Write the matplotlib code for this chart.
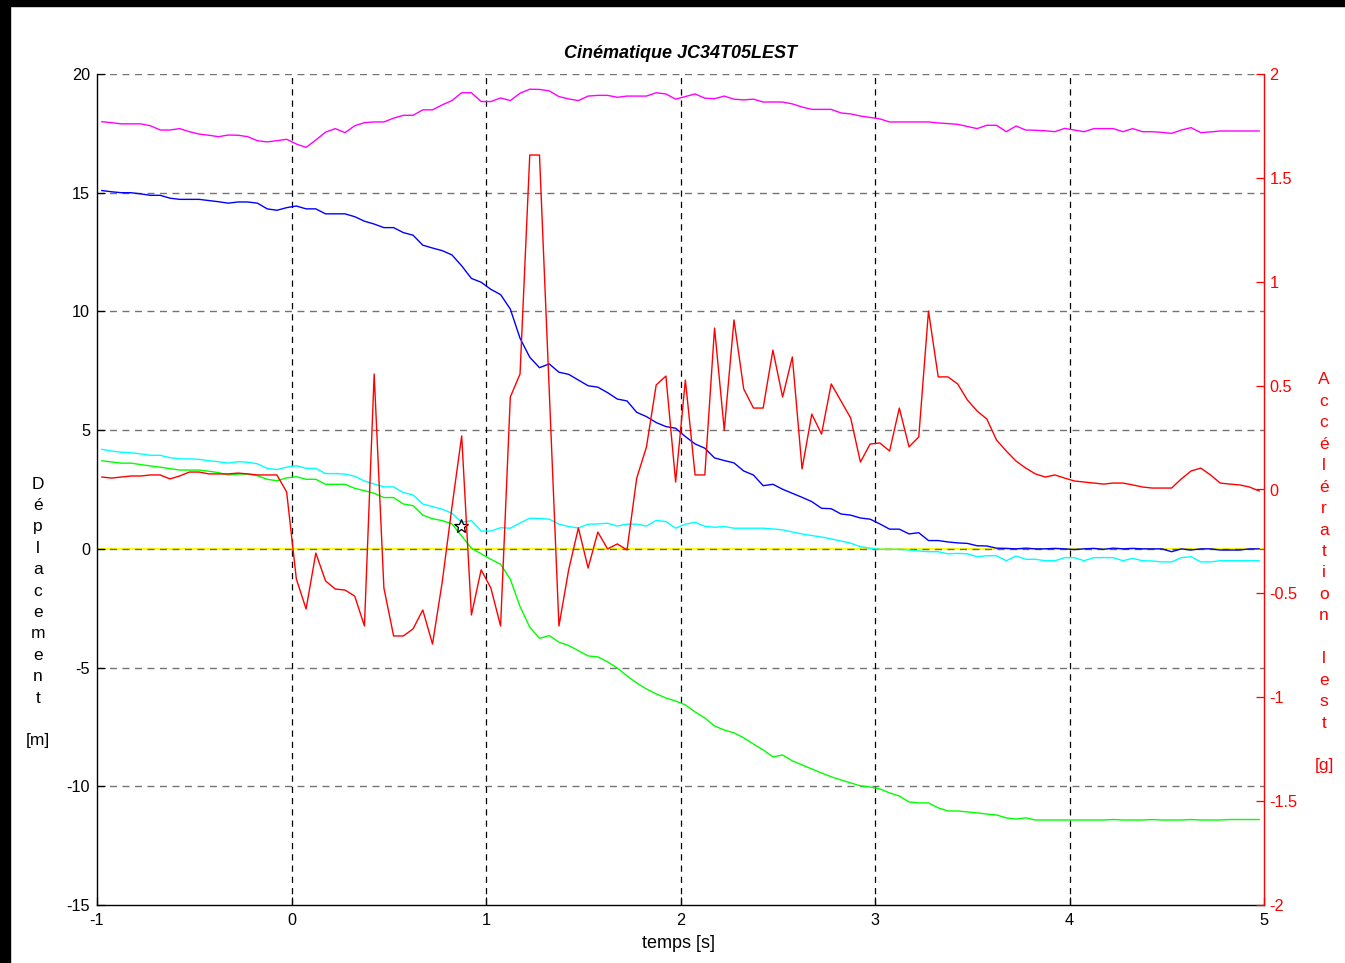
import numpy as np
import matplotlib
matplotlib.use("Agg")
import matplotlib.pyplot as plt
from matplotlib.patches import Rectangle

plt.rcParams["font.family"] = ["Liberation Sans", "DejaVu Sans"]
plt.rcParams["axes.unicode_minus"] = False

# sampling: 120 points every 0.05 s
t = -0.975 + 0.05 * np.arange(120)

magenta = [17.99, 17.95, 17.90, 17.90, 17.90, 17.82, 17.64, 17.64, 17.70, 17.57,
           17.47, 17.42, 17.36, 17.43, 17.42, 17.36, 17.19, 17.14, 17.19, 17.25,
           17.05, 16.91, 17.22, 17.55, 17.70, 17.53, 17.82, 17.95, 17.98, 17.98,
           18.14, 18.26, 18.26, 18.49, 18.49, 18.70, 18.88, 19.21, 19.21, 18.84,
           18.84, 18.99, 18.88, 19.19, 19.36, 19.35, 19.29, 19.05, 18.95, 18.88,
           19.07, 19.10, 19.10, 19.02, 19.07, 19.07, 19.07, 19.21, 19.16, 18.94,
           19.05, 19.16, 18.98, 18.96, 19.07, 18.94, 18.91, 18.94, 18.82, 18.82,
           18.82, 18.74, 18.61, 18.51, 18.51, 18.51, 18.36, 18.32, 18.23, 18.17,
           18.11, 17.98, 17.98, 17.98, 17.98, 17.98, 17.94, 17.91, 17.88, 17.79,
           17.70, 17.84, 17.84, 17.57, 17.81, 17.64, 17.63, 17.61, 17.57, 17.71,
           17.64, 17.57, 17.70, 17.70, 17.70, 17.57, 17.70, 17.57, 17.57, 17.54,
           17.50, 17.64, 17.74, 17.53, 17.56, 17.60, 17.60, 17.60, 17.60, 17.60]

blue = [15.09, 15.04, 15.00, 15.00, 14.95, 14.89, 14.89, 14.77, 14.72, 14.72,
        14.72, 14.67, 14.62, 14.56, 14.61, 14.61, 14.56, 14.32, 14.26, 14.37,
        14.44, 14.32, 14.32, 14.11, 14.11, 14.11, 13.99, 13.80, 13.68, 13.53,
        13.53, 13.32, 13.21, 12.79, 12.67, 12.56, 12.38, 11.92, 11.39, 11.23,
        10.93, 10.71, 10.10, 8.87, 8.07, 7.63, 7.79, 7.44, 7.35, 7.11,
        6.87, 6.81, 6.58, 6.31, 6.23, 5.75, 5.57, 5.32, 5.15, 5.08,
        4.73, 4.42, 4.24, 3.83, 3.72, 3.62, 3.28, 3.11, 2.66, 2.72,
        2.51, 2.34, 2.17, 1.99, 1.71, 1.69, 1.47, 1.42, 1.30, 1.25,
        1.05, 0.83, 0.83, 0.63, 0.68, 0.35, 0.35, 0.29, 0.25, 0.23,
        0.13, 0.12, 0.03, 0.02, 0.00, 0.03, 0.00, 0.00, 0.02, 0.00,
        -0.03, 0.00, 0.02, -0.02, 0.03, 0.00, 0.02, 0.00, 0.00, 0.00,
        -0.12, 0.00, -0.05, 0.00, 0.00, -0.05, -0.05, -0.05, 0.00, 0.00]

cyan = [4.19, 4.12, 4.07, 4.05, 4.00, 3.94, 3.94, 3.84, 3.79, 3.79,
        3.77, 3.71, 3.67, 3.61, 3.67, 3.65, 3.58, 3.39, 3.34, 3.44,
        3.50, 3.39, 3.39, 3.17, 3.17, 3.15, 3.06, 2.86, 2.73, 2.61,
        2.61, 2.37, 2.27, 1.89, 1.78, 1.67, 1.50, 1.12, 1.19, 0.75,
        0.75, 0.89, 0.87, 1.09, 1.29, 1.28, 1.25, 1.04, 0.94, 0.88,
        1.04, 1.05, 1.08, 0.96, 1.04, 1.04, 0.96, 1.20, 1.15, 0.87,
        1.04, 1.12, 0.95, 0.91, 0.94, 0.87, 0.87, 0.87, 0.87, 0.84,
        0.80, 0.71, 0.63, 0.56, 0.50, 0.42, 0.33, 0.24, 0.09, 0.03,
        -0.02, -0.02, -0.02, -0.05, -0.09, -0.12, -0.12, -0.21, -0.19, -0.21,
        -0.33, -0.29, -0.29, -0.50, -0.30, -0.44, -0.44, -0.50, -0.50, -0.37,
        -0.37, -0.50, -0.37, -0.37, -0.37, -0.50, -0.40, -0.50, -0.51, -0.55,
        -0.55, -0.37, -0.33, -0.55, -0.55, -0.50, -0.50, -0.50, -0.50, -0.50]

green = [3.71, 3.66, 3.61, 3.61, 3.55, 3.49, 3.44, 3.38, 3.32, 3.32,
         3.32, 3.27, 3.21, 3.11, 3.15, 3.15, 3.08, 2.93, 2.87, 2.99,
         3.04, 2.93, 2.93, 2.72, 2.72, 2.72, 2.55, 2.45, 2.34, 2.16,
         2.16, 1.89, 1.82, 1.42, 1.27, 1.19, 1.05, 0.54, 0.03, -0.21,
         -0.44, -0.65, -1.28, -2.43, -3.30, -3.77, -3.65, -3.93, -4.07, -4.29,
         -4.51, -4.55, -4.76, -5.02, -5.35, -5.65, -5.90, -6.11, -6.28, -6.41,
         -6.57, -6.87, -7.12, -7.46, -7.63, -7.75, -7.96, -8.22, -8.47, -8.76,
         -8.68, -8.93, -9.10, -9.27, -9.44, -9.60, -9.73, -9.86, -9.98, -10.03,
         -10.11, -10.28, -10.41, -10.66, -10.70, -10.70, -10.91, -11.04, -11.04, -11.08,
         -11.12, -11.17, -11.21, -11.33, -11.38, -11.33, -11.42, -11.42, -11.42, -11.42,
         -11.42, -11.42, -11.42, -11.42, -11.40, -11.42, -11.42, -11.42, -11.40, -11.42,
         -11.42, -11.42, -11.40, -11.42, -11.42, -11.42, -11.40, -11.40, -11.40, -11.40]

accel = [0.060, 0.055, 0.060, 0.065, 0.065, 0.070, 0.070, 0.051, 0.065, 0.084,
         0.084, 0.075, 0.075, 0.075, 0.079, 0.075, 0.070, 0.070, 0.070, -0.012,
         -0.431, -0.575, -0.306, -0.440, -0.479, -0.484, -0.513, -0.657, 0.556, -0.474,
         -0.705, -0.705, -0.671, -0.580, -0.744, -0.445, -0.084, 0.258, -0.604, -0.387,
         -0.474, -0.657, 0.445, 0.556, 1.610, 1.610, 0.479, -0.657, -0.387, -0.185,
         -0.378, -0.205, -0.286, -0.262, -0.291, 0.055, 0.205, 0.503, 0.546, 0.036,
         0.527, 0.070, 0.070, 0.777, 0.286, 0.816, 0.484, 0.392, 0.392, 0.671,
         0.445, 0.638, 0.099, 0.363, 0.267, 0.508, 0.426, 0.344, 0.132, 0.219,
         0.224, 0.185, 0.392, 0.205, 0.253, 0.859, 0.542, 0.542, 0.508, 0.431,
         0.378, 0.339, 0.238, 0.185, 0.137, 0.103, 0.075, 0.060, 0.070, 0.055,
         0.041, 0.036, 0.031, 0.026, 0.031, 0.031, 0.022, 0.012, 0.007, 0.007,
         0.007, 0.051, 0.089, 0.103, 0.070, 0.031, 0.026, 0.022, 0.012, -0.007]

star_t, star_y = 0.87, 0.98

x_ticks = [-1, 0, 1, 2, 3, 4, 5]
y_ticks = [-15, -10, -5, 0, 5, 10, 15, 20]
g_ticks = [-2, -1.5, -1, -0.5, 0, 0.5, 1, 1.5, 2]
g_labels = ["-2", "-1.5", "-1", "-0.5", "0", "0.5", "1", "1.5", "2"]

W, H = 1345, 963
fig = plt.figure(figsize=(W / 100, H / 100), dpi=100)
fig.patches.append(Rectangle((0, 1 - 6 / H), 1, 6 / H, transform=fig.transFigure, color="k"))
fig.patches.append(Rectangle((0, 0), 10 / W, 1, transform=fig.transFigure, color="k"))

ax = fig.add_axes([97 / W, 1 - 905 / H, (1264 - 97) / W, (905 - 74) / H])
ax2 = ax.twinx()

ax.axhline(0, color="#ffff00", lw=1.5, zorder=1)
for yv in y_ticks[1:]:
    ax.axhline(yv, color="k", alpha=0.55, lw=1.0, ls=(0, (5, 4)), zorder=1.5)
for xv in x_ticks[1:-1]:
    ax.axvline(xv, color="k", lw=0.9, ls=(0, (5, 4)), zorder=1.5)

ax.plot(t, magenta, color="#ff00ff", lw=1.0, zorder=2)
ax.plot(t, blue, color="#0000ff", lw=1.0, zorder=2)
ax.plot(t, cyan, color="#00ffff", lw=1.0, zorder=2)
ax.plot(t, green, color="#00ff00", lw=1.0, zorder=2)
ax.plot([star_t], [star_y], marker="*", ms=10, mfc="none", mec="k", mew=0.9, zorder=3)
ax2.plot(t, accel, color="#ff0000", lw=1.0)

ax.set_xlim(-1, 5)
ax.set_ylim(-15, 20)
ax2.set_ylim(-2, 2)
ax.set_xticks(x_ticks)
ax.set_yticks(y_ticks)
ax2.set_yticks(g_ticks)
ax2.set_yticklabels(g_labels)

for s in ["top", "right"]:
    ax.spines[s].set_visible(False)
for s in ["top", "bottom", "left"]:
    ax2.spines[s].set_visible(False)
ax.spines["left"].set_linewidth(1.0)
ax.spines["bottom"].set_linewidth(1.0)
ax2.spines["right"].set_color("#ff0000")
ax2.spines["right"].set_linewidth(1.0)

ax.tick_params(direction="in", length=6, width=0.9, labelsize=11.7, pad=5)
ax.tick_params(axis="x", pad=6)
ax2.tick_params(direction="in", length=6, width=0.9, labelsize=11.7, pad=4,
                colors="#ff0000")

fig.text(680 / W, 1 - 54 / H, "Cinématique JC34T05LEST", ha="center", va="center",
         fontsize=13, fontweight="bold", fontstyle="italic")
fig.text(678 / W, 1 - 943 / H, "temps [s]", ha="center", va="center", fontsize=13)

left_label = list("Déplacement") + ["", "[m]"]
for i, ch in enumerate(left_label):
    fig.text(38 / W, 1 - (484 + 21.4 * i) / H, ch, ha="center", va="center", fontsize=12.5)

right_label = list("Accélération lest") + ["", "[g]"]
for i, ch in enumerate(right_label):
    fig.text(1324 / W, 1 - (380 + 21.44 * i) / H, ch, ha="center", va="center",
             fontsize=12.5, color="#ff0000")

fig.savefig("out.png", dpi=100)
